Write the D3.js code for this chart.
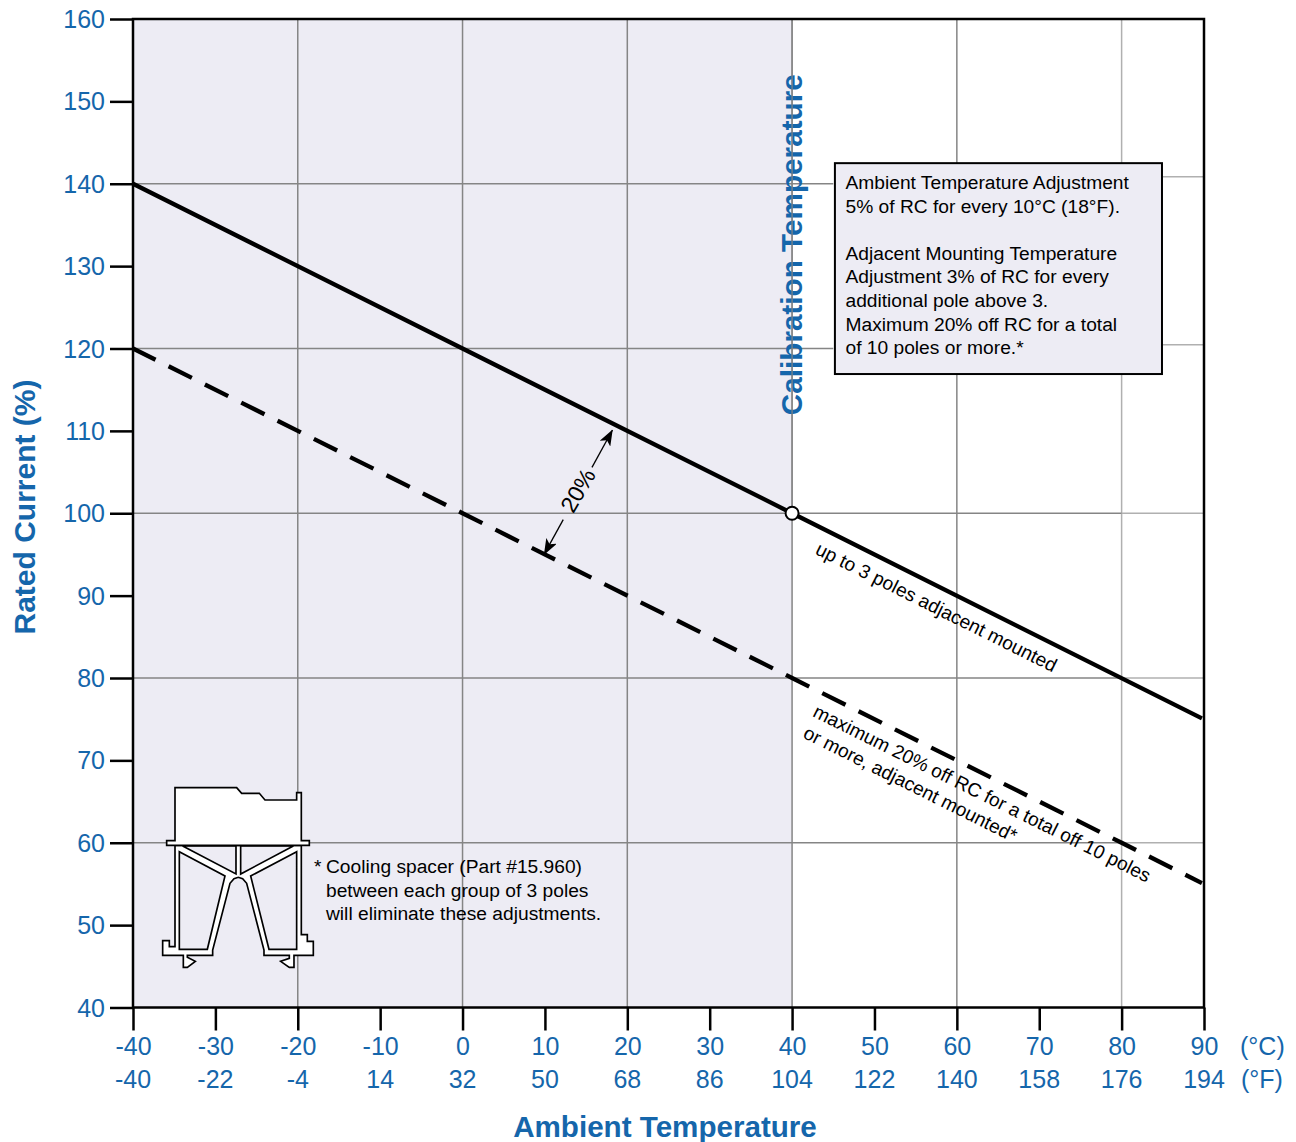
<!DOCTYPE html>
<html><head><meta charset="utf-8">
<script src="https://cdn.jsdelivr.net/npm/d3@7/dist/d3.min.js"></script>
<style>html,body{margin:0;padding:0;background:#fff}svg{display:block}text{font-family:"Liberation Sans",Arial,sans-serif}</style>
</head><body><svg id="c" width="1296" height="1142"></svg>
<script>
const celsiusTicks=[-40,-30,-20,-10,0,10,20,30,40,50,60,70,80,90];
const fahrenheitTicks=[-40,-22,-4,14,32,50,68,86,104,122,140,158,176,194];
const currentTicks=[40,50,60,70,80,90,100,110,120,130,140,150,160];
const gridX=[-20,0,20,40,60];
const gridY=[60,80,100];
const solidTemps=[-40,40,89.75];
const solidCurrent=[140,100,75.1];
const dashedTemps=[-40,0,40,80,89.75];
const dashedCurrent=[120,100,80,60,55.1];
const boxLines=["Ambient Temperature Adjustment","5% of RC for every 10°C (18°F).","","Adjacent Mounting Temperature","Adjustment 3% of RC for every","additional pole above 3.","Maximum 20% off RC for a total","of 10 poles or more.*"];
const noteLines=["Cooling spacer (Part #15.960)","between each group of 3 poles","will eliminate these adjustments."];
const BLUE="#1566ab",LAV="#edecf4",GRID="#858585",GRIDL="#b0b0b0";
const svg=d3.select("#c");
const x=d3.scaleLinear().domain([-40,90]).range([133,1204]);
const y=d3.scaleLinear().domain([40,160]).range([1007.5,19]);
svg.append("rect").attr("x",x(-40)).attr("y",y(160)).attr("width",x(40)-x(-40)).attr("height",y(40)-y(160)).attr("fill",LAV);
const g=svg.append("g").attr("stroke",GRID).attr("stroke-width",1.5);
gridX.forEach(v=>g.append("line").attr("x1",x(v)).attr("x2",x(v)).attr("y1",y(160)).attr("y2",y(40)));
g.append("line").attr("x1",x(80)).attr("x2",x(80)).attr("y1",y(160)).attr("y2",y(40)).attr("stroke",GRIDL);
gridY.forEach(v=>{
  g.append("line").attr("x1",x(-40)).attr("x2",x(80)).attr("y1",y(v)).attr("y2",y(v));
  g.append("line").attr("x1",x(80)).attr("x2",x(90)).attr("y1",y(v)).attr("y2",y(v)).attr("stroke",GRIDL);
});
[[-40,45,140,GRID],[-40,45,120,GRID],[85,90,140.85,GRIDL],[85,90,120.45,GRIDL]].forEach(d=>g.append("line").attr("x1",x(d[0])).attr("x2",x(d[1])).attr("y1",y(d[2])).attr("y2",y(d[2])).attr("stroke",d[3]));

// calibration label, with the gridline over it
svg.append("text").attr("transform",`translate(${x(40)+10},${y(132.6)}) rotate(-90)`).attr("text-anchor","middle").attr("fill",BLUE).attr("font-weight","bold").attr("font-size",29.7).text("Calibration Temperature");
svg.append("line").attr("x1",x(40)).attr("x2",x(40)).attr("y1",y(160)).attr("y2",y(100)).attr("stroke",GRID).attr("stroke-width",1.2);

// axes
const axL=d3.axisLeft(y).tickValues(currentTicks).tickSize(23).tickPadding(5).tickFormat(d=>String(d));
const gl=svg.append("g").attr("transform",`translate(${x(-40)},0)`).call(axL);
const axB=d3.axisBottom(x).tickValues(celsiusTicks).tickSize(23).tickPadding(3).tickFormat(d=>String(d));
const gb=svg.append("g").attr("transform",`translate(0,${y(40)})`).call(axB);
[gl,gb].forEach(a=>{a.select(".domain").remove();a.selectAll("line").attr("stroke","#000").attr("stroke-width",2.5);a.selectAll("text").attr("fill",BLUE).attr("font-size",25).attr("font-family",'"Liberation Sans",Arial,sans-serif');});
gl.selectAll("text").attr("dy","0.34em");
gb.selectAll("text").attr("y",0).attr("dy",0).attr("transform","translate(0,47.5)");
svg.append("g").selectAll("text").data(fahrenheitTicks).join("text").attr("x",(d,i)=>x(celsiusTicks[i])).attr("y",y(40)+80.5).attr("text-anchor","middle").attr("fill",BLUE).attr("font-size",25).text(d=>d);
svg.append("text").attr("x",1240).attr("y",y(40)+47.5).attr("fill",BLUE).attr("font-size",25).text("(°C)");
svg.append("text").attr("x",1241).attr("y",y(40)+80.5).attr("fill",BLUE).attr("font-size",25).text("(°F)");
svg.append("rect").attr("x",x(-40)).attr("y",y(160)).attr("width",x(90)-x(-40)).attr("height",y(40)-y(160)).attr("fill","none").attr("stroke","#000").attr("stroke-width",2.5);

svg.append("text").attr("x",665).attr("y",1137).attr("text-anchor","middle").attr("fill",BLUE).attr("font-weight","bold").attr("font-size",29.6).text("Ambient Temperature");
svg.append("text").attr("transform","translate(35,507) rotate(-90)").attr("text-anchor","middle").attr("fill",BLUE).attr("font-weight","bold").attr("font-size",30).text("Rated Current (%)");

// curves
const line=d3.line().x(d=>x(d[0])).y(d=>y(d[1]));
svg.append("path").attr("d",line(d3.zip(solidTemps,solidCurrent))).attr("fill","none").attr("stroke","#000").attr("stroke-width",4.3);
svg.append("path").attr("d",line(d3.zip(dashedTemps,dashedCurrent))).attr("fill","none").attr("stroke","#000").attr("stroke-width",4.3).attr("stroke-dasharray","26 14.6").attr("stroke-dashoffset",0.8);
svg.append("circle").attr("cx",x(40)).attr("cy",y(100)).attr("r",6.5).attr("fill","#fff").attr("stroke","#000").attr("stroke-width",2);

// 20% arrow
const defs=svg.append("defs");
defs.append("marker").attr("id","ah").attr("viewBox","0 0 16 12").attr("refX",15.5).attr("refY",6).attr("markerWidth",16).attr("markerHeight",12).attr("orient","auto-start-reverse").attr("markerUnits","userSpaceOnUse").append("path").attr("d","M0,0L16,6L0,12L4,6Z").attr("fill","#000");
const A=[x(9.9),y(95)],B=[x(18.2),y(110.1)];
const lerp=t=>[A[0]+(B[0]-A[0])*t,A[1]+(B[1]-A[1])*t];
const p1=lerp(0.28),p2=lerp(0.70);
svg.append("line").attr("x1",p1[0]).attr("y1",p1[1]).attr("x2",A[0]).attr("y2",A[1]).attr("stroke","#000").attr("stroke-width",1.3).attr("marker-end","url(#ah)");
svg.append("line").attr("x1",p2[0]).attr("y1",p2[1]).attr("x2",B[0]).attr("y2",B[1]).attr("stroke","#000").attr("stroke-width",1.3).attr("marker-end","url(#ah)");
svg.append("text").attr("transform",`translate(${x(14)+7},${y(102.9)+5}) rotate(-60)`).attr("text-anchor","middle").attr("font-size",23).attr("fill","#000").text("20%");

// rotated labels
const rot=(t,px,py,a,fs)=>svg.append("text").attr("transform",`translate(${px},${py}) rotate(${a})`).attr("font-size",fs).attr("fill","#000").text(t);
rot("up to 3 poles adjacent mounted",x(42.7),y(95.1),26.5,19.1);
rot("maximum 20% off RC for a total off 10 poles",x(42.4),y(75.4),26.5,19.1);
rot("or more, adjacent mounted*",x(41.2),y(72.8),26.5,19.1);

// box
svg.append("rect").attr("x",x(45.2)).attr("y",y(142.5)).attr("width",x(84.9)-x(45.2)).attr("height",y(116.9)-y(142.5)).attr("fill",LAV).attr("stroke","#000").attr("stroke-width",2);
boxLines.forEach((t,i)=>svg.append("text").attr("x",845.5).attr("y",189+i*23.6).attr("font-size",19.2).attr("fill","#000").text(t));
svg.append("text").attr("x",314).attr("y",873).attr("font-size",19.2).attr("fill","#000").text("*");
noteLines.forEach((t,i)=>svg.append("text").attr("x",326).attr("y",873+i*23.6).attr("font-size",19.2).attr("fill","#000").text(t));

// spacer icon
const ic=svg.append("g").attr("transform","translate(130,770) scale(0.3333)").attr("stroke","#000").attr("stroke-width",5).attr("stroke-linejoin","miter");
const P=a=>"M"+a.map(p=>p.join(",")).join("L")+"Z";
const outer=[[135,226],[135,530],[118,530],[118,512],[98,512],[98,556],[160,556],[160,592],[172,592],[196,574],[172,562],[172,556],[248,556],[248,540],[300,340],[312,326],[325,322],[338,326],[350,340],[402,540],[402,556],[478,556],[478,565],[452,574],[478,592],[492,592],[492,556],[550,556],[550,514],[532,514],[532,494],[514,494],[514,226]];
const holes=[[[148,245],[285,318],[232,538],[148,538]],[[500,245],[362,318],[417,538],[500,538]],[[158,228],[318,228],[318,312]],[[332,228],[490,228],[332,312]]];
ic.append("path").attr("fill-rule","evenodd").attr("fill","#fff").attr("d",P(outer)+holes.map(P).join(""));
ic.append("path").attr("fill","#fff").attr("d",P([[135,53],[320,53],[335,70],[388,70],[405,90],[500,90],[500,68],[514,68],[514,212],[538,212],[538,226],[110,226],[110,212],[135,212]]));
</script></body></html>
